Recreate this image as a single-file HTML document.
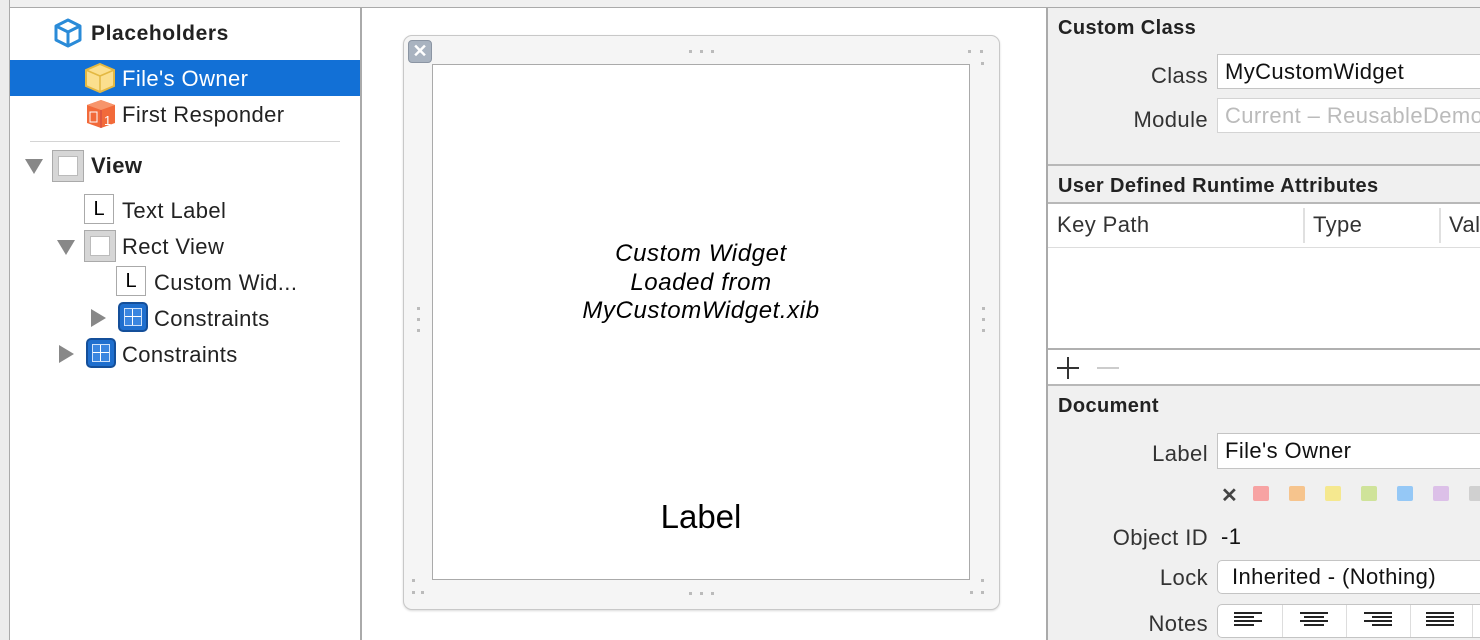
<!DOCTYPE html>
<html><head><style>
*{margin:0;padding:0;box-sizing:border-box}
body{width:1480px;height:640px;position:relative;overflow:hidden;background:#fff;font-family:"Liberation Sans",sans-serif;color:#222}
.a{position:absolute}
.t{position:absolute;white-space:nowrap;font-size:22px;line-height:24px;letter-spacing:0.4px}
.b{font-weight:bold;font-size:20px;letter-spacing:0.4px}
.r{text-align:right}
.lbl{position:absolute;width:30px;height:30px;border:1px solid #aaa;background:#fff;font-size:20px;text-align:center;line-height:28px;color:#000}
.vw{position:absolute;width:32px;height:32px;border:1px solid #aaa;background:#d6d6d6}
.vw div{position:absolute;left:5px;top:5px;width:20px;height:20px;background:#fff;border:1px solid #bbb}
.tri{position:absolute;width:0;height:0}
.dn{border-left:9px solid transparent;border-right:9px solid transparent;border-top:15px solid #888}
.rt{border-top:9px solid transparent;border-bottom:9px solid transparent;border-left:15px solid #888}
.con{position:absolute;width:30px;height:30px;border-radius:5px;background:#1f6fce;border:2px solid #144f9a}
.con div{position:absolute;left:4px;top:4px;width:18px;height:18px;background:#3a86e0;border:1px solid #cfe2fa}
.con div:before{content:"";position:absolute;left:7px;top:0;width:1px;height:16px;background:#fff}
.con div:after{content:"";position:absolute;top:7px;left:0;height:1px;width:16px;background:#fff}
.inp{position:absolute;background:#fff;border:1px solid #c4c4c4;font-size:22px;letter-spacing:0.4px;line-height:34px;padding-left:7px;white-space:nowrap;overflow:hidden}
.sw{position:absolute;top:486px;width:16px;height:15px;border-radius:2px}
.d{position:absolute;width:3px;height:3px;background:#bbb}
</style></head><body>
<div class="a" style="left:0;top:0;width:1480px;height:7px;background:#f0f0f0"></div>
<div class="a" style="left:0;top:7px;width:1480px;height:1px;background:#aaa"></div>
<div class="a" style="left:0;top:0;width:9px;height:640px;background:#ececec"></div>
<div class="a" style="left:9px;top:0;width:1px;height:640px;background:#aaa"></div>
<div class="a" style="left:360px;top:7px;width:2px;height:633px;background:#aaa"></div>
<div class="a" style="left:1046px;top:7px;width:2px;height:633px;background:#aaa"></div>

<svg class="a" style="left:54px;top:18px" width="28" height="30" viewBox="0 0 28 30"><path d="M14 2 L26 8 L26 22 L14 28 L2 22 L2 8 Z M2 8 L14 14 L26 8 M14 14 L14 28" fill="none" stroke="#2a8bd8" stroke-width="3" stroke-linejoin="round"/></svg>
<div class="t b" style="left:91px;top:22px;font-size:21px;letter-spacing:0.6px">Placeholders</div>
<div class="a" style="left:10px;top:60px;width:350px;height:36px;background:#1270d6"></div>
<svg class="a" style="left:84px;top:62px" width="32" height="32" viewBox="0 0 32 32"><path d="M16 2 L30 8 L30 24 L16 30 L2 24 L2 8 Z" fill="#fbdf8e" stroke="#e3b842" stroke-width="2"/><path d="M2 8 L16 14 L30 8 M16 14 L16 30" fill="none" stroke="#e3b842" stroke-width="1.5"/></svg>
<div class="t" style="left:122px;top:67px;color:#fff">File's Owner</div>
<svg class="a" style="left:86px;top:99px" width="30" height="30" viewBox="0 0 30 30"><path d="M15 1 L29 6 L29 24 L15 29 L1 24 L1 6 Z" fill="#f26a3a"/><path d="M1 6 L15 11 L29 6 L15 1 Z" fill="#f7956b"/><path d="M15 11 L15 29" stroke="#c44" stroke-width="1"/><text x="18" y="26" font-size="13" fill="#fff" font-family="Liberation Sans">1</text><rect x="4" y="13" width="7" height="10" fill="none" stroke="#fff" stroke-width="1"/></svg>
<div class="t" style="left:122px;top:103px">First Responder</div>
<div class="a" style="left:30px;top:141px;width:310px;height:1px;background:#d4d4d4"></div>
<div class="tri dn" style="left:25px;top:159px"></div>
<div class="vw" style="left:52px;top:150px"><div></div></div>
<div class="t b" style="left:91px;top:154px;font-size:22px">View</div>
<div class="lbl" style="left:84px;top:194px">L</div>
<div class="t" style="left:122px;top:199px">Text Label</div>
<div class="tri dn" style="left:57px;top:240px"></div>
<div class="vw" style="left:84px;top:230px;width:32px;height:32px"><div></div></div>
<div class="t" style="left:122px;top:235px">Rect View</div>
<div class="lbl" style="left:116px;top:266px">L</div>
<div class="t" style="left:154px;top:271px">Custom Wid...</div>
<div class="tri rt" style="left:91px;top:309px"></div>
<div class="con" style="left:118px;top:302px"><div></div></div>
<div class="t" style="left:154px;top:307px">Constraints</div>
<div class="tri rt" style="left:59px;top:345px"></div>
<div class="con" style="left:86px;top:338px"><div></div></div>
<div class="t" style="left:122px;top:343px">Constraints</div>

<div class="a" style="left:403px;top:35px;width:597px;height:575px;border:1px solid #c8c8c8;border-radius:9px;background:#f5f5f5;box-shadow:0 1px 2px rgba(0,0,0,.15)"></div>
<div class="a" style="left:432px;top:64px;width:538px;height:516px;border:1px solid #aaa;background:#fff"></div>
<div class="a" style="left:408px;top:40px;width:24px;height:23px;border-radius:4px;background:#a9b3c0;border:1px solid #8b95a3;color:#fff;font-weight:bold;font-size:18px;line-height:20px;text-align:center">✕</div>
<div class="d" style="left:689px;top:50px"></div><div class="d" style="left:700px;top:50px"></div><div class="d" style="left:711px;top:50px"></div>
<div class="d" style="left:689px;top:592px"></div><div class="d" style="left:700px;top:592px"></div><div class="d" style="left:711px;top:592px"></div>
<div class="d" style="left:968px;top:50px"></div><div class="d" style="left:980px;top:50px"></div><div class="d" style="left:981px;top:62px"></div>
<div class="d" style="left:412px;top:579px"></div><div class="d" style="left:412px;top:591px"></div><div class="d" style="left:421px;top:591px"></div>
<div class="d" style="left:981px;top:579px"></div><div class="d" style="left:970px;top:591px"></div><div class="d" style="left:981px;top:591px"></div>
<div class="d" style="left:417px;top:307px"></div><div class="d" style="left:417px;top:318px"></div><div class="d" style="left:417px;top:329px"></div>
<div class="d" style="left:982px;top:307px"></div><div class="d" style="left:982px;top:318px"></div><div class="d" style="left:982px;top:329px"></div>
<div class="a" style="left:432px;top:240px;width:538px;text-align:center;font-style:italic;font-size:24px;letter-spacing:0.6px;line-height:28.5px;color:#000">Custom Widget<br>Loaded from<br>MyCustomWidget.xib</div>
<div class="a" style="left:432px;top:498px;width:538px;text-align:center;font-size:33px;line-height:38px;color:#000">Label</div>

<div class="a" style="left:1048px;top:8px;width:432px;height:632px;background:#f0f0f0"></div>
<div class="t b" style="left:1058px;top:16px">Custom Class</div>
<div class="t r" style="left:1090px;width:118px;top:64px;color:#333">Class</div>
<div class="inp" style="left:1217px;top:54px;width:270px;height:35px;color:#111">MyCustomWidget</div>
<div class="t r" style="left:1090px;width:118px;top:108px;color:#333">Module</div>
<div class="inp" style="left:1217px;top:98px;width:270px;height:35px;color:#bbb;border-color:#d4d4d4">Current – ReusableDemo</div>
<div class="a" style="left:1048px;top:164px;width:432px;height:2px;background:#b8b8b8"></div>
<div class="t b" style="left:1058px;top:174px">User Defined Runtime Attributes</div>
<div class="a" style="left:1048px;top:202px;width:432px;height:2px;background:#b8b8b8"></div>
<div class="a" style="left:1048px;top:204px;width:432px;height:144px;background:#fff"></div>
<div class="a" style="left:1048px;top:247px;width:432px;height:1px;background:#ddd"></div>
<div class="a" style="left:1303px;top:208px;width:2px;height:35px;background:#e0e0e0"></div>
<div class="a" style="left:1439px;top:208px;width:2px;height:35px;background:#e0e0e0"></div>
<div class="t" style="left:1057px;top:213px;color:#333">Key Path</div>
<div class="t" style="left:1313px;top:213px;color:#333">Type</div>
<div class="t" style="left:1449px;top:213px;color:#333">Val</div>
<div class="a" style="left:1048px;top:348px;width:432px;height:2px;background:#b0b0b0"></div>
<div class="a" style="left:1048px;top:350px;width:432px;height:34px;background:#fff"></div>
<div class="a" style="left:1057px;top:367px;width:22px;height:2px;background:#333"></div>
<div class="a" style="left:1067px;top:357px;width:2px;height:22px;background:#333"></div>
<div class="a" style="left:1097px;top:367px;width:22px;height:2px;background:#ccc"></div>
<div class="a" style="left:1048px;top:384px;width:432px;height:2px;background:#b8b8b8"></div>
<div class="t b" style="left:1058px;top:394px">Document</div>
<div class="t r" style="left:1090px;width:118px;top:442px;color:#333">Label</div>
<div class="inp" style="left:1217px;top:433px;width:270px;height:36px;color:#111">File's Owner</div>
<div class="a" style="left:1221px;top:484px;font-size:20px;line-height:24px;color:#444;font-weight:bold">✕</div>
<div class="sw" style="left:1253px;background:#f7a3a3"></div>
<div class="sw" style="left:1289px;background:#f6c48d"></div>
<div class="sw" style="left:1325px;background:#f5e88f"></div>
<div class="sw" style="left:1361px;background:#cfe39a"></div>
<div class="sw" style="left:1397px;background:#95c8f6"></div>
<div class="sw" style="left:1433px;background:#dcc0e8"></div>
<div class="sw" style="left:1469px;background:#d0d0d0"></div>
<div class="t r" style="left:1090px;width:118px;top:526px;color:#333">Object ID</div>
<div class="t" style="left:1221px;top:525px;color:#111">-1</div>
<div class="t r" style="left:1090px;width:118px;top:566px;color:#333">Lock</div>
<div class="inp" style="left:1217px;top:560px;width:280px;height:34px;border-radius:5px;padding-left:14px;line-height:32px;color:#111">Inherited - (Nothing)</div>
<div class="t r" style="left:1090px;width:118px;top:612px;color:#333">Notes</div>
<div class="a" style="left:1217px;top:604px;width:280px;height:34px;border:1px solid #c4c4c4;border-radius:5px;background:#fff"></div>
<div class="a" style="left:1282px;top:605px;width:1px;height:32px;background:#ddd"></div>
<div class="a" style="left:1346px;top:605px;width:1px;height:32px;background:#ddd"></div>
<div class="a" style="left:1410px;top:605px;width:1px;height:32px;background:#ddd"></div>
<div class="a" style="left:1472px;top:605px;width:1px;height:32px;background:#ddd"></div>
<svg class="a" style="left:1234px;top:612px" width="240" height="16"><g fill="#222"><rect x="0" y="0" width="28" height="2"/><rect x="0" y="4" width="20" height="2"/><rect x="0" y="8" width="28" height="2"/><rect x="0" y="12" width="20" height="2"/>
<rect x="66" y="0" width="28" height="2"/><rect x="70" y="4" width="20" height="2"/><rect x="66" y="8" width="28" height="2"/><rect x="70" y="12" width="20" height="2"/>
<rect x="130" y="0" width="28" height="2"/><rect x="138" y="4" width="20" height="2"/><rect x="130" y="8" width="28" height="2"/><rect x="138" y="12" width="20" height="2"/>
<rect x="192" y="0" width="28" height="2"/><rect x="192" y="4" width="28" height="2"/><rect x="192" y="8" width="28" height="2"/><rect x="192" y="12" width="28" height="2"/></g></svg>
</body></html>
